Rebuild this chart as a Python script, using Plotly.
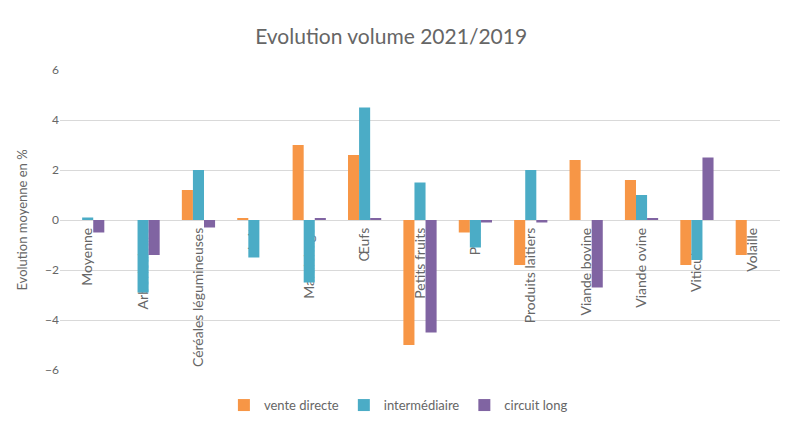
import plotly.graph_objects as go

categories = ["Moyenne", "Arboriculture", "Céréales légumineuses", "Lait", "Maraîchage",
              "Œufs", "Petits fruits", "Porc", "Produits laitiers", "Viande bovine",
              "Viande ovine", "Viticulture", "Volaille"]
vente_directe = [0.0, 0.0, 1.2, 0.05, 3.0, 2.6, -5.0, -0.5, -1.8, 2.4, 1.6, -1.8, -1.4]
intermediaire = [0.1, -2.9, 2.0, -1.5, -2.5, 4.5, 1.5, -1.1, 2.0, 0.0, 1.0, -1.6, 0.0]
circuit_long = [-0.5, -1.4, -0.3, 0.0, 0.05, 0.05, -4.5, -0.1, -0.1, -2.7, 0.05, 2.5, 0.0]
series_names = ["vente directe", "intermédiaire", "circuit long"]
y_ticks = [-6, -4, -2, 0, 2, 4, 6]

colors = ["#F79646", "#4BACC6", "#8064A2"]
font = "Lato, 'Open Sans', sans-serif"
txt = "#666666"

fig = go.Figure()
for name, vals, c in zip(series_names, [vente_directe, intermediaire, circuit_long], colors):
    fig.add_trace(go.Bar(x=categories, y=vals, name=name, marker=dict(color=c, line=dict(width=0))))

fig.update_layout(
    width=787, height=428,
    margin=dict(l=60, r=7, t=70, b=58),
    paper_bgcolor="white", plot_bgcolor="white",
    barmode="group", bargap=0.4, bargroupgap=0,
    title=dict(text="Evolution volume 2021/2019", x=0.497, xanchor="center", y=0.915, yanchor="middle",
               font=dict(family=font, size=21, color=txt)),
    font=dict(family=font, color=txt),
    xaxis=dict(anchor="free", position=0.5, layer="below traces", tickangle=-90,
               tickfont=dict(size=14, color=txt), showgrid=False, zeroline=False, showline=False,
               ticks="", ticklabelstandoff=4),
    yaxis=dict(range=[-6, 6], tickvals=y_ticks, showgrid=True, gridcolor="#D9D9D9", gridwidth=1,
               zeroline=True, zerolinecolor="#D9D9D9", zerolinewidth=1,
               tickfont=dict(size=12, color=txt), ticks="", ticklen=0,
               title=dict(text="Evolution moyenne en %", font=dict(size=13, color=txt), standoff=14)),
    legend=dict(orientation="h", x=0.47, xanchor="center", y=-0.117, yanchor="middle",
                font=dict(size=13, color=txt), itemwidth=30),
)

fig.write_html("out.html")
